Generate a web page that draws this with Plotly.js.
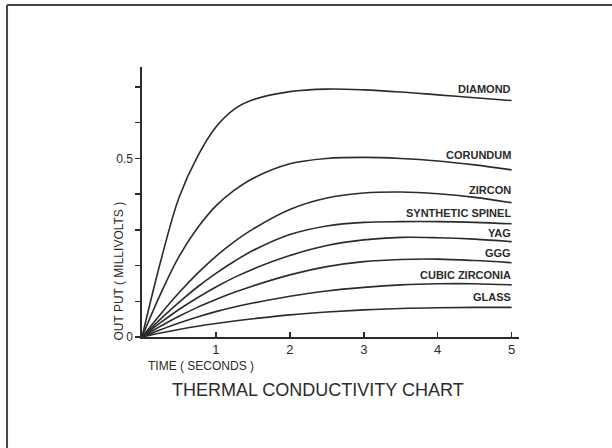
<!DOCTYPE html>
<html>
<head>
<meta charset="utf-8">
<script src="https://cdn.plot.ly/plotly-3.0.1.min.js"></script>
<style>
  html, body { margin: 0; padding: 0; background: #fff; }
  #chart { width: 612px; height: 448px; }
</style>
</head>
<body>
<div id="chart"></div>
<script>
// Data (time in seconds, output in millivolts)
const seriesNames = ["DIAMOND", "CORUNDUM", "ZIRCON", "SYNTHETIC SPINEL", "YAG", "GGG", "CUBIC ZIRCONIA", "GLASS"];

const timeS = [0, 0.25, 0.5, 0.75, 1.0, 1.25, 1.5, 2.0, 2.5, 3.0, 3.5, 4.0, 4.5, 5.0];

const diamondV  = [0, 0.210, 0.390, 0.505, 0.588, 0.638, 0.664, 0.687, 0.694, 0.692, 0.686, 0.678, 0.670, 0.662];
const corundumV = [0, 0.120, 0.225, 0.305, 0.367, 0.411, 0.444, 0.485, 0.500, 0.503, 0.500, 0.493, 0.482, 0.468];
const zirconV   = [0, 0.064, 0.124, 0.178, 0.226, 0.267, 0.302, 0.357, 0.389, 0.403, 0.406, 0.401, 0.391, 0.376];
const spinelV   = [0, 0.050, 0.097, 0.140, 0.178, 0.212, 0.242, 0.287, 0.311, 0.321, 0.323, 0.323, 0.321, 0.317];
const yagV      = [0, 0.040, 0.077, 0.110, 0.140, 0.167, 0.190, 0.228, 0.256, 0.272, 0.279, 0.278, 0.274, 0.267];
const gggV      = [0, 0.030, 0.058, 0.083, 0.105, 0.125, 0.143, 0.174, 0.197, 0.211, 0.217, 0.218, 0.214, 0.208];
const cubicV    = [0, 0.020, 0.039, 0.056, 0.071, 0.084, 0.095, 0.114, 0.129, 0.139, 0.146, 0.149, 0.149, 0.146];
const glassV    = [0, 0.011, 0.021, 0.030, 0.038, 0.045, 0.051, 0.062, 0.070, 0.076, 0.080, 0.082, 0.083, 0.083];

// label vertical positions (millivolts) of the series names
const labelY = [0.695, 0.51, 0.412, 0.346, 0.291, 0.235, 0.174, 0.112];

const yTickVals = [0, 0.1, 0.2, 0.3, 0.4, 0.5, 0.6, 0.7];
const yTickText = ["0", "", "", "", "", "0.5", "", ""];
const xTickVals = [1, 2, 3, 4, 5];
const xTickText = ["1", "2", "3", "4", "5"];

const allV = [diamondV, corundumV, zirconV, spinelV, yagV, gggV, cubicV, glassV];

const ink = "#2b2b2b";
const traces = allV.map((v, i) => ({
  x: timeS, y: v, name: seriesNames[i], type: "scatter", mode: "lines",
  line: { color: ink, width: 1.6, shape: "spline", smoothing: 1 },
  hoverinfo: "skip", showlegend: false
}));

const narrow = "Liberation Sans Narrow, Arial Narrow, Liberation Sans, sans-serif";
const labelFont = { family: narrow, size: 11, color: ink, weight: "bold" };
const annotations = seriesNames.map((n, i) => ({
  x: 5.0, y: labelY[i], xref: "x", yref: "y", text: n, showarrow: false,
  xanchor: "right", yanchor: "middle", font: labelFont, xshift: 1
}));

annotations.push({
  xref: "paper", yref: "paper", x: -0.062, y: -0.02, xanchor: "center", yanchor: "bottom",
  text: "OUT PUT ( MILLIVOLTS )", textangle: -90, showarrow: false,
  font: { family: narrow, size: 12, color: ink }
});
annotations.push({
  xref: "paper", yref: "paper", x: 0.01, y: -0.073, xanchor: "left", yanchor: "top",
  text: "TIME ( SECONDS )", showarrow: false,
  font: { family: narrow, size: 12, color: ink }
});
annotations.push({
  xref: "paper", yref: "paper", x: 0.467, y: -0.15, xanchor: "center", yanchor: "top",
  text: "THERMAL CONDUCTIVITY CHART", showarrow: false,
  font: { family: "Liberation Sans, Arial, sans-serif", size: 18, color: ink }
});

const layout = {
  width: 612, height: 448,
  margin: { l: 142, r: 93, t: 67, b: 111, pad: 0 },
  paper_bgcolor: "#fff", plot_bgcolor: "#fff",
  showlegend: false,
  xaxis: {
    range: [0, 5.1], showgrid: false, zeroline: false,
    showline: true, linecolor: ink, linewidth: 1.6,
    tickmode: "array", tickvals: xTickVals, ticktext: xTickText,
    ticks: "inside", ticklen: 5, tickwidth: 1.5, tickcolor: ink,
    tickfont: { family: "Liberation Sans, Arial, sans-serif", size: 13, color: ink },
    fixedrange: true
  },
  yaxis: {
    range: [0, 0.756], showgrid: false, zeroline: false,
    showline: true, linecolor: ink, linewidth: 1.6,
    tickmode: "array", tickvals: yTickVals, ticktext: yTickText,
    ticks: "outside", ticklen: 5, tickwidth: 1.5, tickcolor: ink,
    tickfont: { family: "Liberation Sans, Arial, sans-serif", size: 12, color: ink },
    fixedrange: true
  },
  annotations: annotations,
  shapes: [
    { type: "line", xref: "paper", yref: "paper", x0: -0.358, x1: 1.25, y0: 1.2296, y1: 1.2296, line: { color: "#444", width: 2 } },
    { type: "line", xref: "paper", yref: "paper", x0: -0.358, x1: -0.358, y0: 1.2296, y1: -0.42, line: { color: "#444", width: 2 } }
  ]
};

Plotly.newPlot("chart", traces, layout, { staticPlot: true, displayModeBar: false });
</script>
</body>
</html>
